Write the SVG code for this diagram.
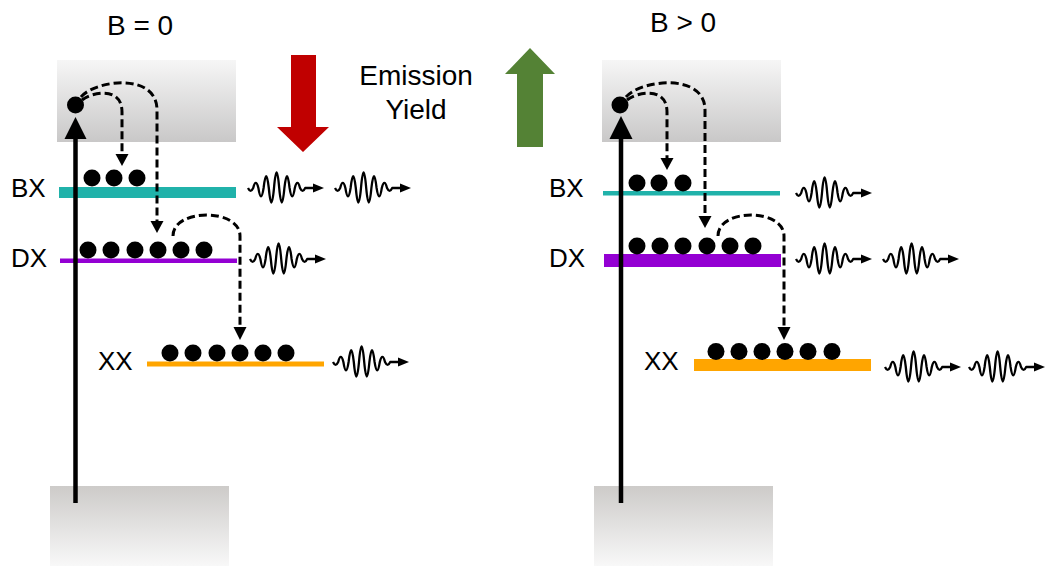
<svg xmlns="http://www.w3.org/2000/svg" xmlns:xlink="http://www.w3.org/1999/xlink" width="1047" height="566" viewBox="0 0 1047 566">
  <defs>
    <linearGradient id="gTop" x1="0" y1="0" x2="0" y2="1">
      <stop offset="0" stop-color="#f6f6f6"/>
      <stop offset="1" stop-color="#c9c8c8"/>
    </linearGradient>
    <linearGradient id="gBot" x1="0" y1="0" x2="0" y2="1">
      <stop offset="0" stop-color="#cdcbc9"/>
      <stop offset="1" stop-color="#f8f8f8"/>
    </linearGradient>
    <g id="wave">
      <path d="M0,0 Q2.6,5.6 5.2,0 Q7.8,-10.2 10.4,0 Q13,16.6 15.6,0 Q18.2,-23.6 20.8,0 Q23.4,29 26,0 Q28.6,-31 31.2,0 Q33.8,29 36.4,0 Q39,-23.6 41.6,0 Q44.2,16.6 46.8,0 Q49.4,-10.2 52,0 Q54.6,5.6 57.2,0 L67,0" fill="none" stroke="#000" stroke-width="2.3" stroke-linejoin="round"/>
      <polygon points="65,-4.5 76,0 65,4.5" fill="#000"/>
    </g>
  </defs>
  <style>
    .lbl { font-family: "Liberation Sans", Arial, sans-serif; font-size: 26px; fill: #000; }
    .big { font-size: 28px; }
    .dash { fill: none; stroke: #000; stroke-width: 3; stroke-dasharray: 8 4; }
    .ah { fill: #000; }
    .dot { fill: #000; }
    .vline { stroke: #000; stroke-width: 4.5; }
  </style>

  <!-- Left panel -->
  <g id="left-top-box"><rect x="57" y="60" width="179" height="82" fill="url(#gTop)"/></g>
  <g id="left-bottom-box"><rect x="50" y="486" width="179" height="80" fill="url(#gBot)"/></g>
  <g id="left-title"><text class="lbl big" x="107" y="35">B = 0</text></g>

  <g id="left-BX">
    <rect x="59" y="187" width="177" height="11" fill="#20b2aa"/>
    <text class="lbl" x="11" y="197">BX</text>
    <circle class="dot" cx="92" cy="178" r="8.5"/>
    <circle class="dot" cx="114" cy="178" r="8.5"/>
    <circle class="dot" cx="137" cy="178" r="8.5"/>
  </g>
  <g id="left-DX">
    <rect x="60" y="258.5" width="177" height="4.5" fill="#9400d3"/>
    <text class="lbl" x="11" y="267">DX</text>
    <circle class="dot" cx="88" cy="250" r="8.5"/>
    <circle class="dot" cx="111" cy="250" r="8.5"/>
    <circle class="dot" cx="135" cy="250" r="8.5"/>
    <circle class="dot" cx="158" cy="250" r="8.5"/>
    <circle class="dot" cx="181" cy="250" r="8.5"/>
    <circle class="dot" cx="204" cy="250" r="8.5"/>
  </g>
  <g id="left-XX">
    <rect x="147" y="361.5" width="177" height="5" fill="#ffa500"/>
    <text class="lbl" x="98" y="370">XX</text>
    <circle class="dot" cx="170" cy="353" r="8.5"/>
    <circle class="dot" cx="193" cy="353" r="8.5"/>
    <circle class="dot" cx="217" cy="353" r="8.5"/>
    <circle class="dot" cx="240" cy="353" r="8.5"/>
    <circle class="dot" cx="263" cy="353" r="8.5"/>
    <circle class="dot" cx="286" cy="353" r="8.5"/>
  </g>
  <g id="left-excited">
    <circle class="dot" cx="75.5" cy="105" r="8.5"/>
  </g>
  <g id="left-emission">
    <use xlink:href="#wave" href="#wave" x="248" y="188"/>
    <use xlink:href="#wave" href="#wave" x="335" y="188"/>
    <use xlink:href="#wave" href="#wave" x="250" y="259"/>
    <use xlink:href="#wave" href="#wave" x="333" y="362"/>
  </g>

  <!-- Middle -->
  <g id="yield-down"><polygon points="291,55 316,55 316,127 329,127 303,152 277,127 291,127" fill="#c00000"/></g>
  <g id="yield-label">
    <text class="lbl big" x="416" y="85" text-anchor="middle">Emission</text>
    <text class="lbl big" x="416" y="119" text-anchor="middle">Yield</text>
  </g>
  <g id="yield-up"><polygon points="530,48 555,74 543,74 543,147 517,147 517,74 505,74" fill="#548235"/></g>

  <!-- Right panel -->
  <g id="right-top-box"><rect x="602" y="60" width="179" height="82" fill="url(#gTop)"/></g>
  <g id="right-bottom-box"><rect x="594" y="486" width="179" height="80" fill="url(#gBot)"/></g>
  <g id="right-title"><text class="lbl big" x="650" y="32">B &gt; 0</text></g>

  <g id="right-BX">
    <rect x="603" y="191" width="177" height="4.5" fill="#20b2aa"/>
    <text class="lbl" x="549" y="197">BX</text>
    <circle class="dot" cx="637" cy="183" r="8.5"/>
    <circle class="dot" cx="659" cy="183" r="8.5"/>
    <circle class="dot" cx="683" cy="183" r="8.5"/>
  </g>
  <g id="right-DX">
    <rect x="604" y="254" width="177" height="13" fill="#9400d3"/>
    <text class="lbl" x="549" y="267">DX</text>
    <circle class="dot" cx="637" cy="246" r="8.5"/>
    <circle class="dot" cx="660" cy="246" r="8.5"/>
    <circle class="dot" cx="683" cy="246" r="8.5"/>
    <circle class="dot" cx="707" cy="246" r="8.5"/>
    <circle class="dot" cx="730" cy="246" r="8.5"/>
    <circle class="dot" cx="753" cy="246" r="8.5"/>
  </g>
  <g id="right-XX">
    <rect x="694" y="359" width="177" height="12" fill="#ffa500"/>
    <text class="lbl" x="644" y="370">XX</text>
    <circle class="dot" cx="716" cy="351.5" r="8.5"/>
    <circle class="dot" cx="739" cy="351.5" r="8.5"/>
    <circle class="dot" cx="762" cy="351.5" r="8.5"/>
    <circle class="dot" cx="785" cy="351.5" r="8.5"/>
    <circle class="dot" cx="808" cy="351.5" r="8.5"/>
    <circle class="dot" cx="832" cy="351.5" r="8.5"/>
  </g>
  <g id="right-excited">
    <circle class="dot" cx="620" cy="105" r="8.5"/>
  </g>
  <g id="right-emission">
    <use xlink:href="#wave" href="#wave" x="796" y="193"/>
    <use xlink:href="#wave" href="#wave" x="796" y="259"/>
    <use xlink:href="#wave" href="#wave" x="883" y="259"/>
    <use xlink:href="#wave" href="#wave" x="885" y="367"/>
    <use xlink:href="#wave" href="#wave" x="969" y="367"/>
  </g>

  <!-- Connectors -->
  <g id="connectors">
    <line class="vline" x1="75.5" y1="503" x2="75.5" y2="136"/>
    <polygon class="ah" points="75.5,117 64.5,139 86.5,139"/>
    <path class="dash" d="M82,100 C92,92 122,86 122,112 L122,155"/>
    <polygon class="ah" points="115.5,154 128.5,154 122,166"/>
    <path class="dash" d="M81,97 C95,80 157,72 157,110 L157,222"/>
    <polygon class="ah" points="150.5,221 163.5,221 157,233"/>
    <path class="dash" d="M173,236 C173,208 240,208 240,236 L240,328"/>
    <polygon class="ah" points="233.5,327 246.5,327 240,340"/>

    <line class="vline" x1="621" y1="503" x2="621" y2="136"/>
    <polygon class="ah" points="621,116 609.5,139 632.5,139"/>
    <path class="dash" d="M627,100 C637,92 667,86 667,112 L667,159"/>
    <polygon class="ah" points="660.5,158 673.5,158 667,170"/>
    <path class="dash" d="M626,97 C640,80 705,72 705,110 L705,217"/>
    <polygon class="ah" points="698.5,216 711.5,216 705,228"/>
    <path class="dash" d="M718,236 C718,208 784,208 784,236 L784,328"/>
    <polygon class="ah" points="777.5,327 790.5,327 784,340"/>
  </g>
</svg>
